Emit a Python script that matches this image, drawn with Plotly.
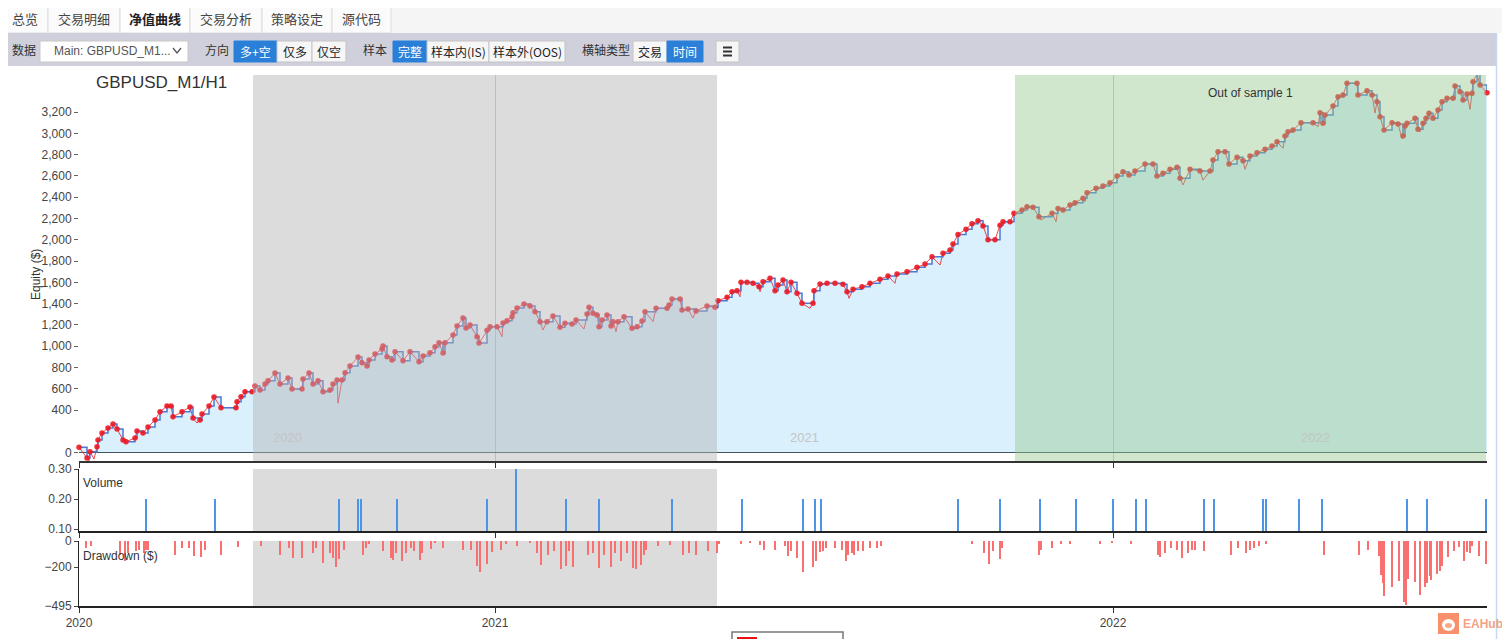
import plotly.graph_objects as go

# the page is 1510x639; the browser keeps an 8px body margin, so the figure is 8px smaller
PAGE_W, PAGE_H, EDGE = 1510, 639, 8
W, H = PAGE_W - EDGE, PAGE_H - EDGE

# ---- data (t = position along the time axis) ----
trade_t = [0, 8, 11, 18, 19, 23, 29, 34, 38, 44, 47, 56, 58, 64, 69, 76, 81, 88, 92, 94,
           103, 111, 114, 121, 123, 130, 135, 142, 157, 158, 162, 166, 173, 176, 181, 186, 189, 196, 201, 209,
           213, 223, 224, 230, 234, 239, 244, 251, 254, 258, 263, 266, 271, 279, 283, 288, 290, 296, 303, 304,
           308, 313, 316, 324, 331, 340, 344, 351, 356, 360, 364, 366, 374, 378, 384, 387, 391, 398, 400, 408,
           411, 418, 424, 428, 433, 434, 438, 445, 451, 456, 461, 468, 474, 481, 486, 493, 497, 508, 510, 514,
           518, 520, 523, 528, 532, 534, 539, 545, 553, 558, 563, 566, 577, 588, 590, 593, 601, 603, 609, 617,
           628, 636, 639, 648, 653, 658, 662, 668, 674, 680, 684, 691, 696, 699, 704, 708, 712, 718, 723, 734,
           735, 741, 748, 756, 764, 768, 774, 783, 791, 801, 809, 818, 828, 838, 846, 853, 864, 871, 874, 879,
           887, 893, 899, 904, 909, 916, 921, 924, 931, 935, 943, 948, 954, 960, 973, 979, 984, 991, 996, 1004,
           1008, 1017, 1024, 1031, 1038, 1044, 1050, 1056, 1066, 1074, 1078, 1084, 1091, 1098, 1101, 1111, 1121, 1131, 1134, 1139,
           1146, 1150, 1158, 1164, 1171, 1178, 1186, 1193, 1198, 1206, 1209, 1214, 1222, 1234, 1241, 1244, 1246, 1254, 1259, 1264,
           1268, 1278, 1279, 1288, 1293, 1298, 1301, 1305, 1313, 1319, 1324, 1326, 1328, 1336, 1339, 1344, 1347, 1350, 1354, 1359,
           1363, 1368, 1374, 1376, 1381, 1384, 1388, 1393, 1394, 1398, 1401, 1408]
trade_eq = [50, -50, 10, 56, 120, 185, 232, 270, 222, 120, 103, 138, 204, 185, 241, 307, 385, 438, 438, 338,
            385, 429, 326, 307, 363, 438, 523, 423, 423, 479, 526, 573, 573, 626, 589, 645, 676, 748, 645, 701,
            598, 598, 692, 748, 645, 676, 573, 589, 645, 683, 683, 751, 814, 899, 845, 814, 871, 927, 974, 1002,
            902, 871, 949, 864, 949, 855, 908, 939, 996, 1033, 936, 1033, 1105, 1190, 1265, 1171, 1199, 1090, 1030, 1150,
            1184, 1184, 1218, 1240, 1278, 1315, 1359, 1397, 1378, 1325, 1231, 1231, 1284, 1178, 1215, 1209, 1246, 1303, 1366, 1309,
            1293, 1184, 1246, 1293, 1190, 1231, 1231, 1278, 1168, 1184, 1237, 1325, 1356, 1356, 1387, 1444, 1444, 1340, 1350, 1331,
            1378, 1366, 1428, 1460, 1512, 1522, 1600, 1600, 1591, 1559, 1606, 1638, 1522, 1575, 1622, 1512, 1600, 1497, 1403, 1403,
            1522, 1585, 1591, 1591, 1582, 1512, 1535, 1559, 1591, 1629, 1660, 1679, 1700, 1741, 1772, 1841, 1873, 1904, 1960, 2050,
            2100, 2150, 2180, 2130, 2000, 2000, 2137, 2170, 2170, 2249, 2280, 2311, 2305, 2217, 2249, 2295, 2280, 2327, 2348, 2390,
            2442, 2484, 2505, 2536, 2599, 2640, 2608, 2646, 2712, 2712, 2599, 2624, 2662, 2681, 2577, 2662, 2646, 2646, 2749, 2827,
            2827, 2712, 2775, 2743, 2787, 2818, 2850, 2881, 2921, 2975, 3015, 3031, 3100, 3100, 3194, 3094, 3172, 3257, 3344, 3360,
            3470, 3470, 3360, 3400, 3360, 3297, 3156, 3031, 3100, 3087, 2975, 3069, 3094, 3141, 3038, 3094, 3141, 3188, 3141, 3219,
            3297, 3329, 3329, 3444, 3391, 3313, 3369, 3376, 3485, 3557, 3453, 3381]

# floating equity dips between closed trades
dip_t = [10, 15, 118, 259, 423, 464, 505, 537, 574, 614, 661, 681, 731, 770, 816, 861,
         962, 977, 1006, 1104, 1124, 1166, 1204, 1239, 1296, 1323, 1341, 1391]
dip_eq = [-75, -60, 279, 464, 1090, 1152, 1162, 1137, 1231, 1265, 1465, 1512, 1356, 1450, 1591, 1763,
          2186, 2170, 2358, 2515, 2560, 2662, 2860, 3062, 3190, 2953, 3015, 3225]

vol_t = [67, 136, 260, 279, 282, 318, 408, 437, 487, 520, 593, 663, 724, 736, 742, 879,
         921, 961, 997, 1034, 1057, 1067, 1125, 1135, 1184, 1187, 1220, 1243, 1328, 1348, 1407]
vol_lots = [0.2, 0.2, 0.2, 0.2, 0.2, 0.2, 0.2, 0.3, 0.2, 0.2, 0.2, 0.2, 0.2, 0.2, 0.2, 0.2,
            0.2, 0.2, 0.2, 0.2, 0.2, 0.2, 0.2, 0.2, 0.2, 0.2, 0.2, 0.2, 0.2, 0.2, 0.2]

dd_t = [7, 12, 41, 46, 49, 57, 60, 65, 67, 69, 96, 103, 110, 115, 122, 126, 142, 159, 182, 201,
        210, 214, 223, 234, 237, 244, 251, 254, 257, 260, 265, 284, 287, 290, 304, 312, 314, 317, 323, 327,
        332, 335, 341, 343, 352, 356, 364, 384, 392, 398, 401, 408, 413, 422, 427, 438, 451, 458, 462, 469,
        475, 482, 487, 490, 494, 509, 514, 520, 525, 532, 536, 542, 548, 554, 557, 562, 565, 567, 579, 591,
        604, 610, 617, 629, 638, 640, 662, 671, 681, 685, 696, 706, 709, 712, 718, 724, 734, 737, 741, 744,
        747, 756, 763, 767, 769, 773, 775, 779, 784, 791, 798, 802, 893, 905, 910, 914, 921, 923, 960, 962,
        973, 982, 991, 1021, 1033, 1052, 1079, 1081, 1086, 1092, 1098, 1103, 1109, 1113, 1116, 1125, 1152, 1159, 1167, 1171,
        1175, 1180, 1187, 1245, 1280, 1289, 1300, 1302, 1304, 1305, 1313, 1320, 1325, 1327, 1329, 1336, 1341, 1346, 1348, 1351,
        1352, 1358, 1361, 1363, 1369, 1375, 1380, 1385, 1388, 1391, 1393, 1400, 1407]
dd_usd = [-52, -39, -104, -156, -91, -78, -65, -91, -70, -65, -104, -52, -52, -117, -122, -65, -104, -44, -39, -104,
          -52, -130, -130, -91, -52, -169, -91, -130, -200, -138, -65, -104, -52, -26, -78, -130, -148, -91, -156, -91,
          -52, -78, -143, -91, -60, -13, -52, -65, -65, -190, -234, -174, -86, -65, -26, -39, -13, -91, -182, -104,
          -78, -216, -190, -78, -195, -104, -91, -208, -104, -200, -91, -156, -91, -208, -216, -182, -104, -65, -39, -34,
          -104, -91, -104, -78, -91, -26, -26, -13, -34, -65, -65, -39, -117, -78, -130, -234, -195, -156, -86, -78,
          -52, -52, -65, -156, -104, -91, -104, -78, -78, -52, -52, -39, -26, -91, -174, -78, -138, -52, -104, -65,
          -52, -26, -26, -26, -13, -26, -104, -122, -91, -52, -65, -130, -91, -65, -65, -78, -104, -52, -91, -65,
          -52, -39, -26, -104, -104, -65, -117, -260, -318, -420, -354, -305, -468, -490, -292, -316, -414, -354, -323, -267,
          -300, -254, -229, -191, -125, -76, -48, -153, -87, -90, -38, -115, -173]

year_ticks = [0, 416, 1034]
year_labels = ["2020", "2021", "2022"]
year_label_t = [208, 725, 1236]
equity_ticks = [0, 400, 600, 800, 1000, 1200, 1400, 1600, 1800, 2000, 2200, 2400, 2600, 2800, 3000, 3200]
in_sample = (174, 638)
out_sample = (936, 1407)

tabs = ["总览", "交易明细", "净值曲线", "交易分析", "策略设定", "源代码"]
active_tab = "净值曲线"


# ---- helpers: page pixel -> paper fraction ----
def px(x):
    return (x - EDGE) / W


def py(y):
    return 1 - (y - EDGE) / H


shapes = []
notes = []


def box(x0, y0, x1, y1, fill, line=None, lw=1):
    shapes.append(dict(type="rect", xref="paper", yref="paper", x0=px(x0), x1=px(x1),
                       y0=py(y1), y1=py(y0), fillcolor=fill, layer="below",
                       line=dict(color=line or fill, width=lw if line else 0)))


def text(x, y, s, size=12, color="#333", anchor="left", family="Noto Sans CJK SC", **kw):
    notes.append(dict(xref="paper", yref="paper", x=px(x), y=py(y), text=s, showarrow=False,
                      xanchor=anchor, yanchor="middle", font=dict(size=size, color=color, family=family), **kw))


# ---- page chrome: tabs and toolbar ----
box(0, 0, PAGE_W, 33, "#f5f5f5")
edges = [1, 48, 120, 190, 262, 332, 391]
for i, name in enumerate(tabs):
    on = name == active_tab
    box(edges[i], 4, edges[i + 1], 33, "#ffffff" if on else "#fbfbfb", "#dcdcdc")
    if on:
        box(edges[i], 4, edges[i + 1], 7, "#5b9bd5")
    text((edges[i] + edges[i + 1]) / 2, 19, "<b>%s</b>" % name if on else name, 13,
         "#222" if on else "#444", anchor="center")

box(0, 33, 1496, 66, "#cfd0dc")
shapes.append(dict(type="line", xref="paper", yref="paper", x0=px(1496.5), x1=px(1496.5),
                   y0=py(639), y1=py(33), line=dict(color="#c4daf2", width=1.5)))

text(10, 49, "数据")
box(40, 41, 188, 62, "#ffffff", "#c8c8c8")
text(52, 51, "Main: GBPUSD_M1...", 12, "#555", family="Liberation Sans")
shapes.append(dict(type="path", xref="paper", yref="paper", line=dict(color="#555", width=1.3),
                   path="M %f %f L %f %f L %f %f" % (px(173), py(48), px(177), py(53), px(181), py(48))))

text(203, 49, "方向")
text(361, 49, "样本")
text(580, 49, "横轴类型")
buttons = [("多+空", 234, 277, True), ("仅多", 277, 312, False), ("仅空", 312, 346, False),
           ("完整", 393, 427, True), ("样本内(IS)", 427, 489, False), ("样本外(OOS)", 489, 565, False),
           ("交易", 633, 667, False), ("时间", 667, 703, True)]
for label, x0, x1, on in buttons:
    box(x0, 41, x1, 62, "#2a80d8" if on else "#f6f6f6", "#2a80d8" if on else "#c4c4c4")
    text((x0 + x1) / 2, 51, label, 12, "#ffffff" if on else "#222", anchor="center")
box(716, 41, 739, 62, "#f6f6f6", "#c4c4c4")
for yy in (47.5, 51.5, 55.5):
    shapes.append(dict(type="line", xref="paper", yref="paper", x0=px(723), x1=px(732),
                       y0=py(yy), y1=py(yy), line=dict(color="#333", width=2)))

# ---- chart ----
eq_pts = sorted(zip(trade_t + dip_t, trade_eq + dip_eq))
fig = go.Figure()
fig.add_trace(go.Scatter(x=trade_t, y=trade_eq, mode="lines", line_shape="hv",
                         line=dict(color="rgba(0,0,0,0)", width=0), fill="tozeroy",
                         fillcolor="rgba(135,206,250,0.3)", hoverinfo="skip"))
fig.add_trace(go.Scatter(x=[p[0] for p in eq_pts], y=[p[1] for p in eq_pts], mode="lines",
                         line=dict(color="rgba(232,40,48,0.85)", width=1), name="Equity"))
fig.add_trace(go.Scatter(x=trade_t, y=trade_eq, mode="lines", line_shape="hv",
                         line=dict(color="#5078d0", width=1.5), name="Balance"))
fig.add_trace(go.Scatter(x=trade_t, y=trade_eq, mode="markers", cliponaxis=False,
                         marker=dict(size=5.5, color="rgba(240,24,34,0.9)"), name="Trades"))
fig.add_trace(go.Bar(x=vol_t, y=vol_lots, width=1.0, marker=dict(color="#4d94e6", line_width=0),
                     xaxis="x2", yaxis="y2", name="Volume"))
fig.add_trace(go.Bar(x=dd_t, y=dd_usd, width=0.85, marker=dict(color="#f87070", line_width=0),
                     xaxis="x3", yaxis="y3", name="Drawdown"))

xdom = [px(79), px(1487)]
axis_font = dict(size=12, color="#444", family="Liberation Sans")
common_x = dict(domain=xdom, range=[0, 1408], tickvals=year_ticks, ticks="outside", ticklen=5,
                tickcolor="#333", zeroline=False, fixedrange=True, automargin=False)

fig.update_layout(
    width=W, height=H, margin=dict(l=0, r=0, t=0, b=0, pad=0, autoexpand=False),
    paper_bgcolor="white", plot_bgcolor="rgba(0,0,0,0)", showlegend=False, bargap=0,
    font=dict(family="Liberation Sans, Noto Sans CJK SC", size=12, color="#444"),
    xaxis=dict(common_x, anchor="y", showticklabels=False, showgrid=True, gridcolor="#c8c8c8",
               showline=True, linecolor="#333", linewidth=1.5),
    yaxis=dict(domain=[py(461), py(75)], range=[-78, 3548], tickvals=equity_ticks, tickformat=",",
               ticks="outside", ticklen=4, tickcolor="#666", tickfont=axis_font, showgrid=False,
               zeroline=True, zerolinecolor="#333", zerolinewidth=1.2, showline=False, automargin=False),
    xaxis2=dict(common_x, anchor="y2", matches="x", showticklabels=False, showgrid=False,
                showline=True, linecolor="#222", linewidth=1.5),
    yaxis2=dict(domain=[py(531), py(469)], range=[0.094, 0.30], tickvals=[0.1, 0.2, 0.3],
                tickformat=".2f", ticks="outside", ticklen=4, tickcolor="#444", tickfont=axis_font,
                showgrid=False, zeroline=False, showline=True, linecolor="#222", automargin=False),
    xaxis3=dict(common_x, anchor="y3", matches="x", ticktext=year_labels, tickfont=axis_font,
                showgrid=False, showline=True, linecolor="#222", linewidth=1.5),
    yaxis3=dict(domain=[py(606), py(541)], range=[-495, 0], tickvals=[0, -200, -495],
                ticks="outside", ticklen=4, tickcolor="#444", tickfont=axis_font,
                showgrid=False, zeroline=False, showline=True, linecolor="#222", automargin=False),
)

# sample shading: over the equity series, behind the volume/drawdown bars
shapes.append(dict(type="rect", xref="x", yref="y domain", x0=in_sample[0], x1=in_sample[1], y0=0, y1=1,
                   fillcolor="rgba(179,179,179,0.46)", line_width=0, layer="above"))
for xr, yr in (("x2", "y2 domain"), ("x3", "y3 domain")):
    shapes.append(dict(type="rect", xref=xr, yref=yr, x0=in_sample[0], x1=in_sample[1], y0=0, y1=1,
                       fillcolor="#dcdcdc", line_width=0, layer="below"))
shapes.append(dict(type="rect", xref="x", yref="y domain", x0=out_sample[0], x1=out_sample[1], y0=0, y1=1,
                   fillcolor="rgba(146,199,141,0.43)", line_width=0, layer="above"))

# labels inside the chart
text(94, 83, "GBPUSD_M1/H1", 17, "#333", family="Liberation Sans")
text(36, 275, "Equity ($)", 12, "#333", anchor="center", family="Liberation Sans", textangle=-90)
text(81, 483, "Volume", 12, "#333", family="Liberation Sans")
text(81, 556, "Drawdown ($)", 12, "#333", family="Liberation Sans")
notes.append(dict(xref="x", yref="paper", x=sum(out_sample) / 2, y=py(84), text="Out of sample 1",
                  showarrow=False, font=dict(size=12, color="#333", family="Liberation Sans")))
for t, lab in zip(year_label_t, year_labels):
    notes.append(dict(xref="x", yref="paper", x=t, y=py(447), text=lab, showarrow=False,
                      font=dict(size=13, color="#c4c4c4", family="Liberation Sans")))

# legend box cut off at the bottom and the EAHub badge
box(732, 632, 843, 652, "#ffffff", "#777", 1.5)
box(737, 637, 757, 652, "#e81010")
shapes.append(dict(type="rect", xref="paper", yref="paper", x0=px(1439), x1=px(1458), y0=py(633), y1=py(614),
                   fillcolor="#f8906c", line=dict(color="#f8906c", width=2), layer="above"))
shapes.append(dict(type="circle", xref="paper", yref="paper", x0=px(1442), x1=px(1455), y0=py(631), y1=py(619),
                   fillcolor="#ffffff", line_width=0, layer="above"))
shapes.append(dict(type="circle", xref="paper", yref="paper", x0=px(1445), x1=px(1452), y0=py(628), y1=py(623),
                   fillcolor="#f8a888", line_width=0, layer="above"))
text(1461, 624, "<b>EAHub</b>", 12, "#f5a283", family="Liberation Sans")

fig.update_layout(shapes=shapes, annotations=notes)
fig.write_html("out.html", config={"displayModeBar": False})
